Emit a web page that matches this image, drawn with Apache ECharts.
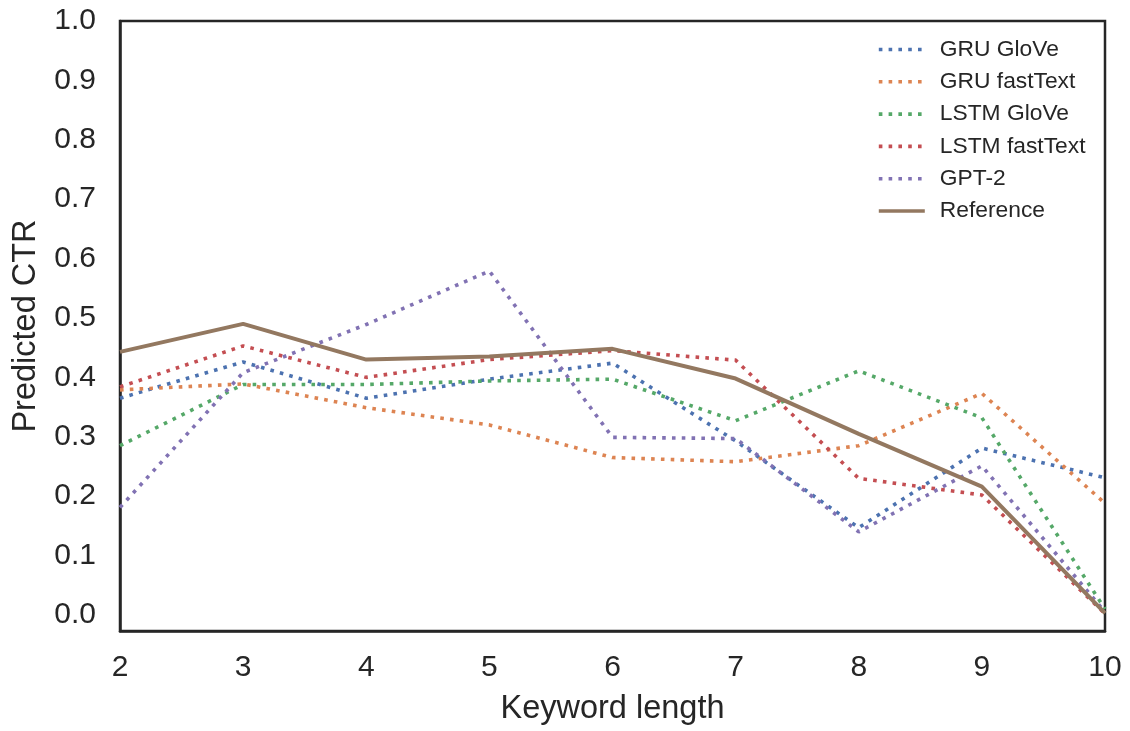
<!DOCTYPE html>
<html>
<head>
<meta charset="utf-8">
<script src="https://cdn.jsdelivr.net/npm/echarts@6/dist/echarts.min.js"></script>
<style>html,body{margin:0;padding:0;background:#fff}#c{width:1130px;height:731px}</style>
</head>
<body>
<div id="c"></div>
<script>
const keywordLength = [2, 3, 4, 5, 6, 7, 8, 9, 10];
const gruGlove     = [0.365, 0.426, 0.365, 0.397, 0.424, 0.293, 0.147, 0.281, 0.231];
const gruFasttext  = [0.379, 0.389, 0.349, 0.320, 0.265, 0.258, 0.285, 0.373, 0.188];
const lstmGlove    = [0.285, 0.388, 0.388, 0.394, 0.397, 0.327, 0.411, 0.332, 0.010];
const lstmFasttext = [0.384, 0.453, 0.400, 0.430, 0.445, 0.429, 0.230, 0.202, 0.002];
const gpt2         = [0.181, 0.408, 0.489, 0.579, 0.299, 0.297, 0.140, 0.251, 0.005];
const reference    = [0.443, 0.490, 0.430, 0.435, 0.448, 0.398, 0.305, 0.216, 0.003];
const seriesNames = ['GRU GloVe', 'GRU fastText', 'LSTM GloVe', 'LSTM fastText', 'GPT-2', 'Reference'];
const yTickLabels = ['0.0','0.1','0.2','0.3','0.4','0.5','0.6','0.7','0.8','0.9','1.0'];

const colors = ['#4C72B0', '#DD8452', '#55A868', '#C44E52', '#8172B3', '#937860'];
const allData = [gruGlove, gruFasttext, lstmGlove, lstmFasttext, gpt2, reference];
const FONT = '"Liberation Sans", Arial, sans-serif';
const TXT = '#262626';

const series = seriesNames.map((name, i) => ({
  name: name,
  type: 'line',
  data: keywordLength.map((x, j) => [x, allData[i][j]]),
  showSymbol: false,
  symbol: 'none',
  color: colors[i],
  lineStyle: i < 5
    ? { width: 3.6, type: [3.6, 6.2], cap: 'butt', color: colors[i] }
    : { width: 4, type: 'solid', color: colors[i] },
  z: i === 5 ? 3 : 2,
  animation: false
}));

const chart = echarts.init(document.getElementById('c'), null, { renderer: 'canvas' });
chart.setOption({
  animation: false,
  backgroundColor: '#ffffff',
  grid: {
    left: 120, right: 25, top: 21, bottom: 99,
    show: true, borderColor: TXT, borderWidth: 2.5, containLabel: false
  },
  legend: {
    orient: 'vertical',
    left: 877, top: 38,
    padding: 0,
    itemWidth: 46, itemHeight: 22, itemGap: 9.3, itemTextGap: 16,
    itemStyle: { opacity: 0 },
    lineStyle: { width: 3.6 },
    textStyle: { fontFamily: FONT, fontSize: 22.8, color: TXT, lineHeight: 22, padding: [0, 0, 0, 10] },
    data: seriesNames
  },
  xAxis: {
    type: 'value', min: 2, max: 10, interval: 1,
    name: 'Keyword length', nameLocation: 'middle', nameGap: 62,
    nameTextStyle: { fontFamily: FONT, fontSize: 32.5, color: TXT },
    axisLine: { show: true, onZero: false, lineStyle: { color: TXT, width: 2.5 } },
    axisTick: { show: false },
    splitLine: { show: false },
    axisLabel: { fontFamily: FONT, fontSize: 30, color: TXT, margin: 22 }
  },
  yAxis: {
    type: 'value', min: -0.027, max: 1.0, splitNumber: 10,
    name: 'Predicted CTR', nameLocation: 'middle', nameGap: 77,
    nameTextStyle: { fontFamily: FONT, fontSize: 32.5, color: TXT },
    axisLine: { show: true, onZero: false, lineStyle: { color: TXT, width: 2.5 } },
    axisTick: { show: false },
    splitLine: { show: false },
    axisLabel: {
      fontFamily: FONT, fontSize: 30, color: TXT, margin: 24,
      formatter: function (v) {
        if (v < -0.001) return '';
        const idx = Math.round(v * 10);
        return yTickLabels[idx] !== undefined ? yTickLabels[idx] : '';
      }
    }
  },
  series: series
});
</script>
</body>
</html>
